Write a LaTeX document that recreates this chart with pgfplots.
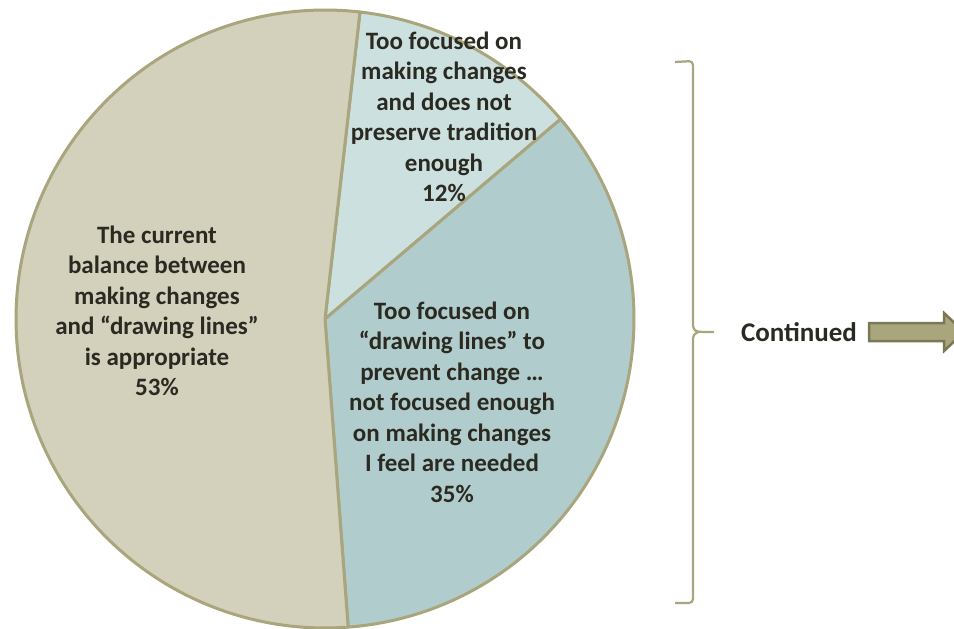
\documentclass[border=0pt]{standalone}
\usepackage{pgfplots}
\pgfplotsset{compat=1.18}
\usepackage{fontspec}
\setmainfont{Carlito}
\definecolor{sliceA}{HTML}{D3D0BC}
\definecolor{sliceB}{HTML}{CCE0E0}
\definecolor{sliceC}{HTML}{B1CCCC}
\definecolor{edge}{HTML}{A9A57C}
\definecolor{arrowdark}{HTML}{7B7856}
\definecolor{txt}{HTML}{2B2A22}
% data: shares in percent
\def\pTooChange{12}
\def\pTooLines{35}
\def\pBalance{53}
\def\startang{83.5}
\def\cx{325}
\def\cy{319}
\def\rr{309}
\begin{document}
\begin{tikzpicture}
\begin{axis}[
  width=954pt, height=629pt, scale only axis,
  xmin=0, xmax=954, ymin=0, ymax=629, y dir=reverse,
  hide axis, clip=true,
  every axis plot/.append style={line width=3pt, line join=round},
]
\path (rel axis cs:0,0) rectangle (rel axis cs:1,1);
% 12%
\addplot[fill=sliceB, draw=edge, samples=60, domain={\startang-3.6*\pTooChange}:{\startang}]
  ({\cx+\rr*cos(x)},{\cy-\rr*sin(x)}) -- (axis cs:\cx,\cy) -- cycle;
% 35%
\addplot[fill=sliceC, draw=edge, samples=120, domain={\startang-3.6*(\pTooChange+\pTooLines)}:{\startang-3.6*\pTooChange}]
  ({\cx+\rr*cos(x)},{\cy-\rr*sin(x)}) -- (axis cs:\cx,\cy) -- cycle;
% 53%
\addplot[fill=sliceA, draw=edge, samples=160, domain={\startang-360}:{\startang-3.6*(\pTooChange+\pTooLines)}]
  ({\cx+\rr*cos(x)},{\cy-\rr*sin(x)}) -- (axis cs:\cx,\cy) -- cycle;
% bracket
\addplot[draw=edge, line width=2.2pt, rounded corners=4pt] coordinates {
  (675,62) (693,61) (693,330) (699,332) (714,332)};
\addplot[draw=edge, line width=2.2pt, rounded corners=4pt] coordinates {
  (699,332) (693,334) (693,603) (675,603)};
% arrow
\addplot[fill=edge, draw=arrowdark, line width=2.5pt, line join=miter] coordinates {
  (869,323) (944,323) (944,313) (964,332) (944,351) (944,341) (869,341)} -- cycle;

\node[align=center, text=txt, font=\fontsize{25}{30.5}\selectfont\bfseries]
  at (axis cs:444,117) {Too focused on\\making changes\\and does not\\preserve tradition\\enough\\12\%};
\node[align=center, text=txt, font=\fontsize{25}{30.5}\selectfont\bfseries]
  at (axis cs:452,402) {Too focused on\\“drawing lines” to\\prevent change …\\not focused enough\\on making changes\\I feel are needed\\35\%};
\node[align=center, text=txt, font=\fontsize{25}{30.5}\selectfont\bfseries]
  at (axis cs:157,311) {The current\\balance between\\making changes\\and “drawing lines”\\is appropriate\\53\%};
\node[text=txt, font=\fontsize{27}{32}\selectfont\bfseries]
  at (axis cs:799,332) {Continued};
\end{axis}
\end{tikzpicture}
\end{document}
